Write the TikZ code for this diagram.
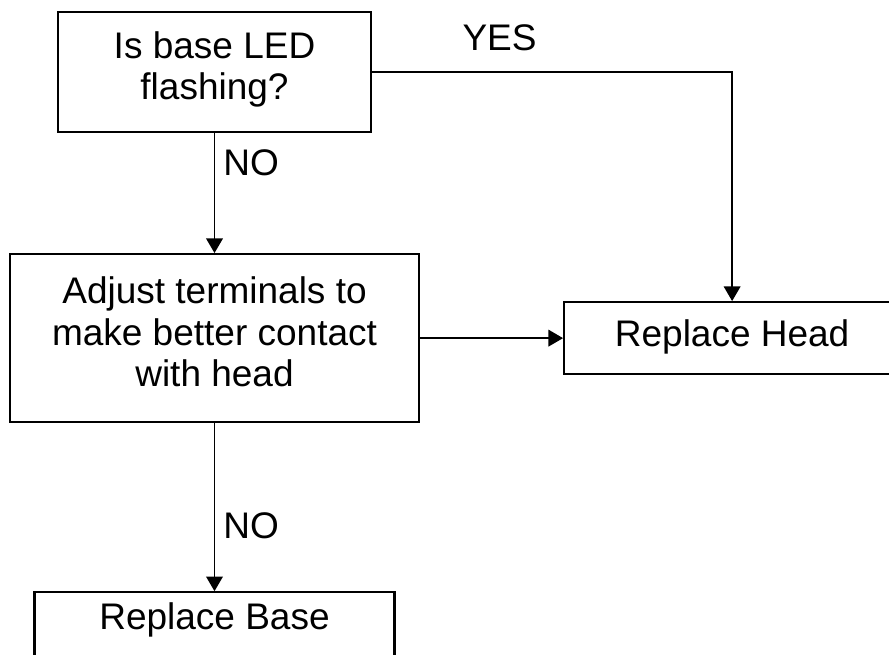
\documentclass[tikz,border=0pt]{standalone}
\usepackage{fontspec}
\setmainfont{Liberation Sans}
\usetikzlibrary{arrows.meta,positioning}

\begin{document}
\begin{tikzpicture}[x=0.75pt,y=-0.75pt,
  box/.style={draw,line width=1.6pt,align=center,inner sep=0pt,
    font=\fontsize{27.75pt}{31.1pt}\selectfont,
    execute at begin node=\strut,execute at end node=\strut},
  lbl/.style={inner sep=0pt,font=\fontsize{27.75pt}{31.1pt}\selectfont},
  ar/.style={-{Triangle[length=11pt,width=12.5pt]},line width=1.2pt}]

\path[use as bounding box,fill=white] (0,0) rectangle (889,655);

% question
\node[box,minimum width=234.75pt,minimum height=90pt] (ask) at (214.5,72) {Is base LED\\flashing?};

% first fix, then the two replacements
\node[box,minimum width=306.75pt,minimum height=126pt,below=90pt of ask] (fix)
  {Adjust terminals to\\make better contact\\with head};
\node[box,minimum width=252pt,minimum height=54pt,right=107.25pt of fix] (head) {Replace Head};
\node[box,minimum width=270pt,inner ysep=6pt,text depth=45pt,below=126pt of fix] (base) {Replace Base};

\draw[ar] (ask) -- node[lbl,right=6pt,pos=.25] (no1) {NO} (fix);
\draw[ar] (ask.east) -| node[lbl,above=15pt,pos=.177] (yes) {YES} (head.north);
\draw[ar] (fix) -- (head);
\draw[ar] (fix) -- node[lbl,right=6pt,pos=.61] (no2) {NO} (base);
\end{tikzpicture}
\end{document}
